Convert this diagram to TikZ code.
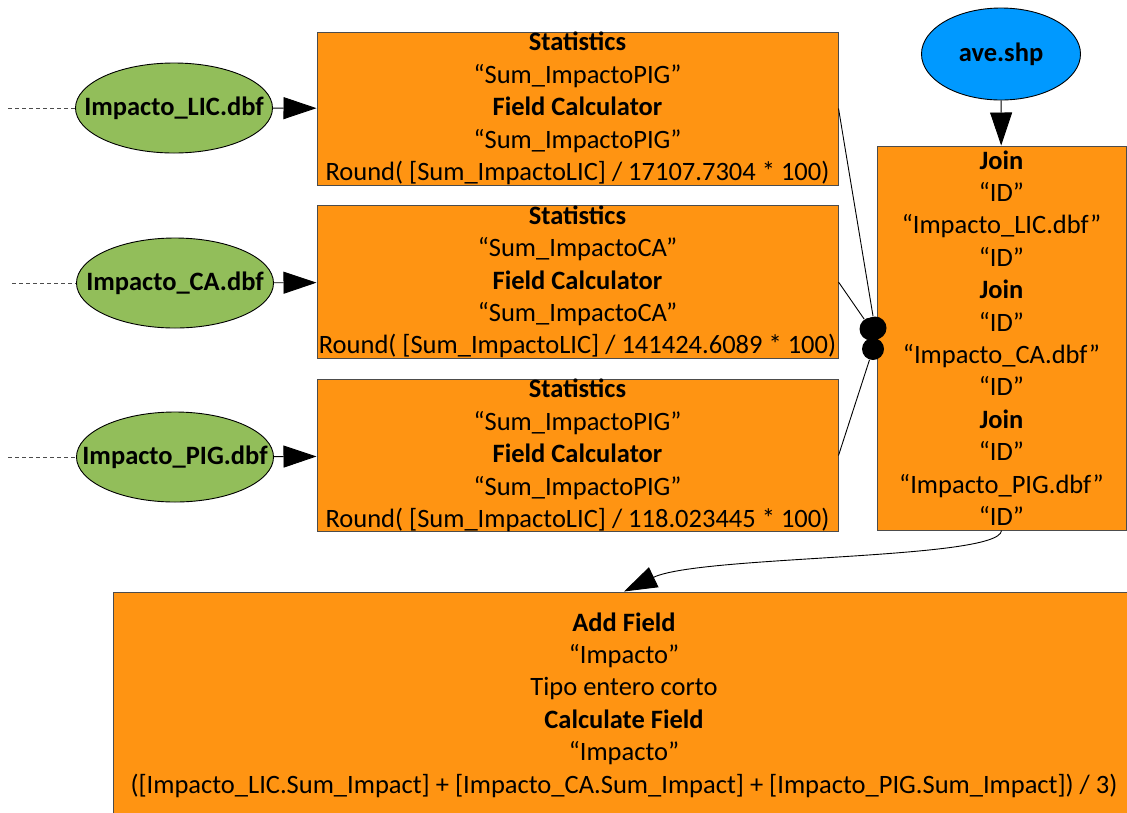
\documentclass[tikz,border=0pt]{standalone}
\usepackage{fontspec}
\setmainfont{Carlito}
\usetikzlibrary{arrows.meta,shapes.geometric}

\definecolor{procorange}{RGB}{255,148,18}
\definecolor{dbfgreen}{RGB}{146,190,90}
\definecolor{shpblue}{RGB}{0,153,255}

\begin{document}
\begin{tikzpicture}[x=1pt,y=-1pt,>={Triangle[length=33pt,width=22pt]},line width=0.9pt,
  every node/.style={font=\fontsize{26.5}{32.4}\selectfont},
  proc/.style={draw=black!70,line width=1pt,fill=procorange,align=center,inner sep=0pt},
  dbf/.style={ellipse,draw,fill=dbfgreen,minimum width=197pt,minimum height=90pt,inner sep=0pt,font=\fontsize{26.5}{32.4}\selectfont\bfseries},
  blob/.style={circle,fill=black,minimum size=23pt,inner sep=0pt},
  feed/.style={dashed,dash pattern=on 4pt off 3pt,black!70}]
\useasboundingbox (0,0) rectangle (1127,812);

% inputs
\node[dbf] (lic) at (174,108) {\makebox[0pt]{Impacto\_LIC.dbf}};
\node[dbf] (ca) at (175,283) {\makebox[0pt]{Impacto\_CA.dbf}};
\node[dbf] (pig) at (175,457) {\makebox[0pt]{Impacto\_PIG.dbf}};
\node[dbf,fill=shpblue,minimum width=159pt,minimum height=92pt] (ave) at (1001,54) {\makebox[0pt]{ave.shp}};
\coordinate (inlic) at (8,108);
\coordinate (inca) at (12,283);
\coordinate (inpig) at (8,457);

% process boxes
\node[proc,minimum width=521pt,minimum height=153pt] (stats1) at (577.5,108.5) {\textbf{Statistics}\\“Sum\_ImpactoPIG”\\\textbf{Field Calculator}\\“Sum\_ImpactoPIG”\\Round( [Sum\_ImpactoLIC] / 17107.7304 * 100)};
\node[proc,minimum width=521pt,minimum height=152pt] (stats2) at (577.5,282) {\textbf{Statistics}\\“Sum\_ImpactoCA”\\\textbf{Field Calculator}\\“Sum\_ImpactoCA”\\Round( [Sum\_ImpactoLIC] / 141424.6089 * 100)};
\node[proc,minimum width=521pt,minimum height=151pt] (stats3) at (577.5,455.5) {\textbf{Statistics}\\“Sum\_ImpactoPIG”\\\textbf{Field Calculator}\\“Sum\_ImpactoPIG”\\Round( [Sum\_ImpactoLIC] / 118.023445 * 100)};
\node[proc,minimum width=249pt,minimum height=384pt] (join) at (1001.5,338) {\textbf{Join}\\“ID”\\“Impacto\_LIC.dbf”\\“ID”\\\textbf{Join}\\“ID”\\“Impacto\_CA.dbf”\\“ID”\\\textbf{Join}\\“ID”\\“Impacto\_PIG.dbf”\\“ID”};
\node[proc,minimum width=1022pt,minimum height=226pt] (addf) at (624,705) {\textbf{Add Field}\\“Impacto”\\Tipo entero corto\\\textbf{Calculate Field}\\“Impacto”\\([Impacto\_LIC.Sum\_Impact] + [Impacto\_CA.Sum\_Impact] + [Impacto\_PIG.Sum\_Impact]) / 3)};

% connectors
\draw[feed] (inlic) -- (lic);
\draw[feed] (inca) -- (ca);
\draw[feed] (inpig) -- (pig);
\draw[->] (lic) -- (stats1);
\draw[->] (ca) -- (stats2);
\draw[->] (pig) -- (stats3);
\draw[->] (ave) -- (join);
\node[blob] (blob1) at (875,328) {};
\node[blob] (blob2) at (871,329) {};
\node[blob,minimum size=22pt] (blob3) at (873,349) {};
\draw (stats1.east) -- (blob1);
\draw (stats2.east) -- (blob2);
\draw (stats3.east) -- (blob3);
\draw[->] (join.south) .. controls (1000,560) and (700,555) .. (addf.north);
\end{tikzpicture}
\end{document}
